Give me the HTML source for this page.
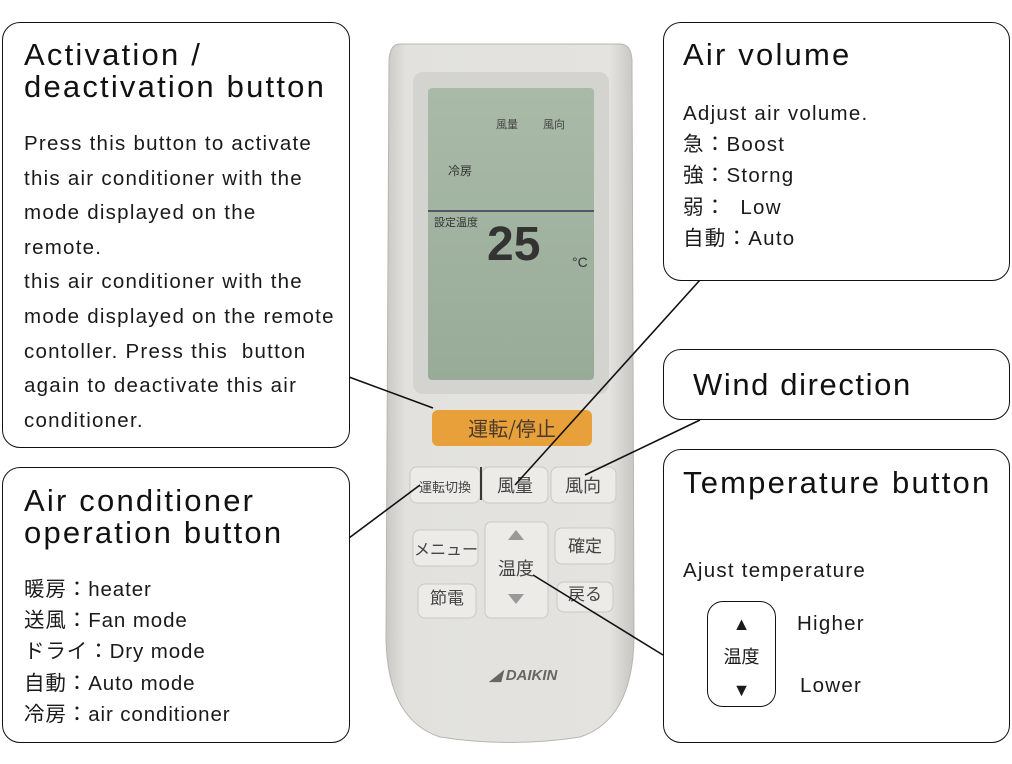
<!DOCTYPE html>
<html><head><meta charset="utf-8"><style>
body{margin:0;width:1012px;height:764px;background:#fff;position:relative;overflow:hidden;font-family:"Liberation Sans","Noto Sans CJK JP",sans-serif;color:#111}
.box{position:absolute;border:1.6px solid #111;border-radius:18px;background:#fff;box-sizing:border-box}
.t{position:absolute;font-size:31px;line-height:32px;white-space:nowrap;letter-spacing:2.2px}
.p{position:absolute;font-size:20.5px;white-space:nowrap;letter-spacing:1.25px;color:#1a1a1a}
svg{position:absolute;left:0;top:0}
</style></head><body>
<svg width="1012" height="764">
<defs>
<linearGradient id="bd" x1="0" x2="1"><stop offset="0" stop-color="#c9c8c4"/><stop offset=".08" stop-color="#e2e1dd"/><stop offset=".9" stop-color="#e4e3df"/><stop offset="1" stop-color="#c7c6c2"/></linearGradient>
<linearGradient id="lcd" x1="0" y1="0" x2="0" y2="1"><stop offset="0" stop-color="#a9bba8"/><stop offset="1" stop-color="#98ab98"/></linearGradient>
</defs>
<path d="M400 44 Q390 44 389 60 L386 640 Q388 720 440 737 Q510 748 580 737 Q632 720 634 640 L632 60 Q631 44 620 44 Z" fill="url(#bd)" stroke="#b8b6b1"/>
<rect x="413" y="72" width="196" height="322" rx="10" fill="#d3d3cf"/>
<rect x="428" y="88" width="166" height="292" rx="4" fill="url(#lcd)"/>
<rect x="428" y="210" width="166" height="2" fill="#556"/>
<text x="487" y="260" font-size="48" font-weight="bold" fill="#333" font-family="Liberation Sans">25</text>
<text x="572" y="267" font-size="14" fill="#333">°C</text>
<text x="434" y="226" font-size="11" fill="#333" font-family="Noto Sans CJK JP">設定温度</text>
<text x="448" y="175" font-size="12" fill="#333" font-family="Noto Sans CJK JP">冷房</text>
<text x="496" y="128" font-size="11" fill="#444" font-family="Noto Sans CJK JP">風量</text>
<text x="543" y="128" font-size="11" fill="#444" font-family="Noto Sans CJK JP">風向</text>
<rect x="432" y="410" width="160" height="36" rx="6" fill="#e8a03a"/>
<text x="512" y="436" font-size="20" text-anchor="middle" fill="#4a3a2a" font-family="Noto Sans CJK JP">運転/停止</text>
<g fill="#ecebe8" stroke="#c9c8c4">
<rect x="410" y="467" width="70" height="36" rx="7"/><rect x="482" y="467" width="66" height="36" rx="7"/><rect x="551" y="467" width="65" height="36" rx="7"/>
<rect x="413" y="530" width="65" height="36" rx="7"/><rect x="485" y="522" width="63" height="96" rx="6"/><rect x="555" y="528" width="60" height="36" rx="7"/>
<rect x="418" y="584" width="58" height="34" rx="7"/><rect x="557" y="582" width="56" height="30" rx="7"/>
</g>
<g fill="#444" font-family="Noto Sans CJK JP" text-anchor="middle">
<text x="445" y="492" font-size="13">運転切換</text><text x="515" y="492" font-size="18">風量</text><text x="583" y="492" font-size="18">風向</text>
<text x="446" y="555" font-size="16">メニュー</text><text x="516" y="575" font-size="18">温度</text><text x="585" y="552" font-size="17">確定</text>
<text x="447" y="604" font-size="17">節電</text><text x="585" y="600" font-size="17">戻る</text>
</g>
<path d="M508 540 L524 540 L516 530Z M508 594 L524 594 L516 604Z" fill="#999"/>
<text x="490" y="680" font-size="15" font-weight="bold" font-style="italic" fill="#666" font-family="Liberation Sans">◢ DAIKIN</text>
<g stroke="#111" stroke-width="1.6">
<line x1="349" y1="377" x2="433" y2="408"/><line x1="700" y1="280" x2="515" y2="485"/><line x1="700" y1="420" x2="585" y2="475"/><line x1="349" y1="538" x2="420" y2="485"/><line x1="663" y1="655" x2="533" y2="575"/>
<line x1="481" y1="467" x2="481" y2="500"/>
</g>
</svg>
<div class="box" style="left:2px;top:22px;width:348px;height:426px"></div>
<div class="t" style="left:24px;top:39px">Activation /<br>deactivation button</div>
<div class="p" style="left:24px;top:127px;line-height:34.6px">Press this button to activate<br>this air conditioner with the<br>mode displayed on the<br>remote.<br>this air conditioner with the<br>mode displayed on the remote<br>contoller. Press this&nbsp; button<br>again to deactivate this air<br>conditioner.</div>
<div class="box" style="left:663px;top:22px;width:347px;height:259px"></div>
<div class="t" style="left:683px;top:39px">Air volume</div>
<div class="p" style="left:683px;top:98px;line-height:31.2px">Adjust air volume.<br>急：Boost<br>強：Storng<br>弱：&nbsp;&nbsp;Low<br>自動：Auto</div>
<div class="box" style="left:663px;top:349px;width:347px;height:71px"></div>
<div class="t" style="left:693px;top:369px;letter-spacing:1.6px">Wind direction</div>
<div class="box" style="left:663px;top:449px;width:347px;height:294px"></div>
<div class="t" style="left:683px;top:467px">Temperature button</div>
<div class="p" style="left:683px;top:559px">Ajust temperature</div>
<div class="box" style="left:707px;top:601px;width:69px;height:106px;border-radius:16px"></div>
<div class="p" style="left:707px;top:608px;width:69px;text-align:center;line-height:33px;font-size:18px;letter-spacing:0">▲<br>温度<br>▼</div>
<div class="p" style="left:797px;top:612px">Higher</div>
<div class="p" style="left:800px;top:674px">Lower</div>
<div class="box" style="left:2px;top:467px;width:348px;height:276px"></div>
<div class="t" style="left:24px;top:485px">Air conditioner<br>operation button</div>
<div class="p" style="left:24px;top:574px;line-height:31.2px;letter-spacing:0.9px">暖房：heater<br>送風：Fan mode<br>ドライ：Dry mode<br>自動：Auto mode<br>冷房：air conditioner</div>
</body></html>
